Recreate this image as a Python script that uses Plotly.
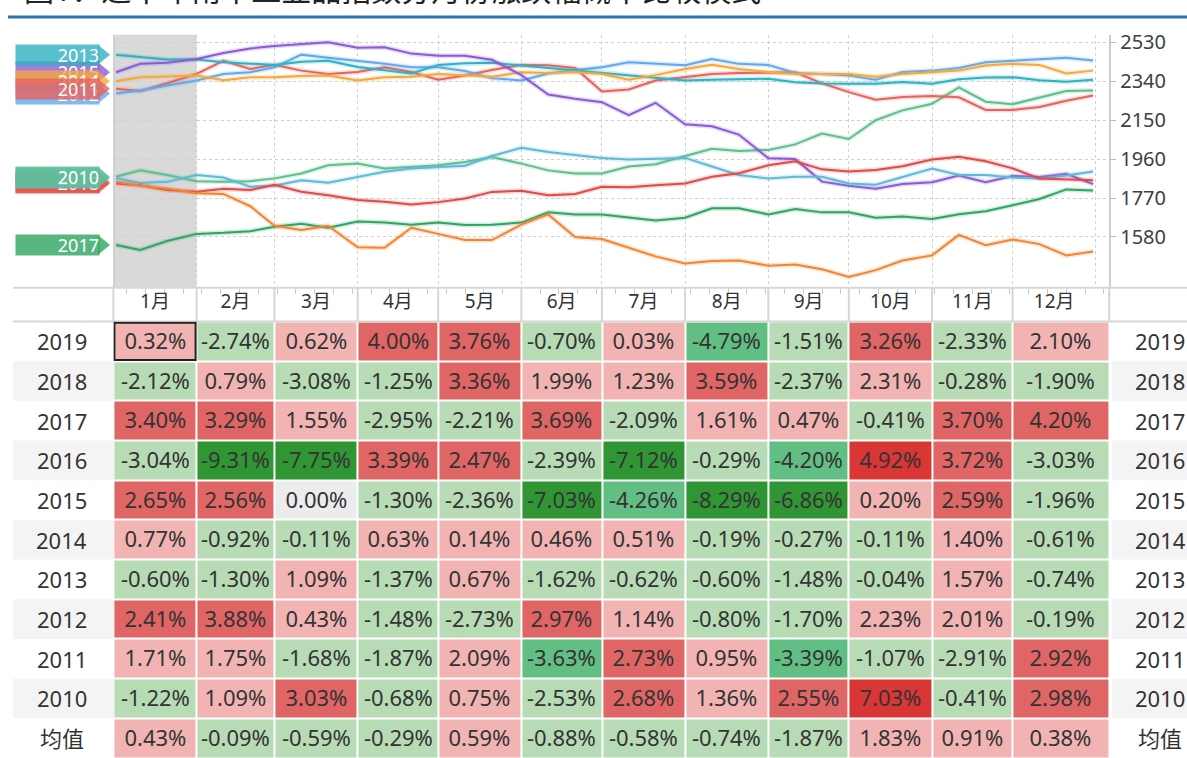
import plotly.graph_objects as go
import pandas as pd

W, H = 1187, 758
FONT = "Noto Sans, Noto Sans CJK SC, sans-serif"

# ---------------- data: line chart ----------------
YEARS = ["2010", "2011", "2012", "2013", "2014", "2015", "2016", "2017", "2018", "2019"]
LINE_COLORS = ["#5dbf8e", "#e8625e", "#5eaaf0", "#2fb2c1", "#f5a83c",
               "#8b5bd6", "#5fb9d8", "#2ea562", "#e04a4a", "#f58431"]

MONTH_STARTS = [f"2020-{m:02d}-01" for m in range(1, 13)]
AXIS_END = "2021-01-06"
DATES = (["2020-01-02", "2020-01-11", "2020-01-21"]
         + [f"2020-{m:02d}-{d:02d}" for m in range(2, 13) for d in (1, 11, 21)]
         + ["2020-12-31"])

S2010 = [1874, 1906, 1882, 1852, 1849, 1852, 1866, 1890, 1930, 1938, 1914, 1922, 1930, 1946, 1970,
         1938, 1905, 1890, 1890, 1924, 1935, 1975, 2010, 2000, 2005, 2032, 2085, 2058, 2150, 2198,
         2230, 2310, 2240, 2228, 2260, 2292, 2295]
S2011 = [2303, 2292, 2330, 2376, 2440, 2400, 2420, 2392, 2376, 2385, 2408, 2385, 2348, 2368, 2395,
         2420, 2418, 2405, 2290, 2300, 2344, 2360, 2376, 2380, 2384, 2384, 2330, 2287, 2250, 2263,
         2268, 2262, 2200, 2200, 2214, 2245, 2271]
S2012 = [2280, 2295, 2319, 2344, 2375, 2384, 2408, 2470, 2455, 2441, 2425, 2408, 2408, 2390, 2355,
         2344, 2378, 2395, 2408, 2433, 2425, 2418, 2449, 2425, 2420, 2380, 2376, 2368, 2348, 2385,
         2392, 2405, 2433, 2441, 2449, 2455, 2441]
S2013 = [2470, 2460, 2446, 2446, 2433, 2426, 2420, 2435, 2440, 2410, 2395, 2378, 2420, 2428, 2430,
         2417, 2408, 2395, 2384, 2370, 2360, 2344, 2348, 2350, 2352, 2335, 2329, 2328, 2328, 2336,
         2328, 2350, 2358, 2360, 2345, 2338, 2347]
S2014 = [2340, 2360, 2363, 2368, 2345, 2360, 2360, 2366, 2368, 2344, 2360, 2362, 2376, 2370, 2362,
         2384, 2380, 2384, 2376, 2348, 2370, 2400, 2420, 2400, 2384, 2376, 2376, 2376, 2362, 2376,
         2384, 2392, 2417, 2425, 2420, 2378, 2392]
S2015 = [2384, 2425, 2430, 2449, 2478, 2500, 2512, 2522, 2530, 2504, 2506, 2475, 2465, 2465, 2445,
         2370, 2275, 2255, 2238, 2175, 2235, 2130, 2120, 2080, 1964, 1960, 1850, 1830, 1815, 1838,
         1847, 1880, 1847, 1878, 1873, 1888, 1838]
S2016 = [1867, 1843, 1849, 1882, 1870, 1825, 1830, 1857, 1845, 1874, 1898, 1914, 1922, 1928, 1975,
         2015, 1995, 1980, 1965, 1958, 1962, 1966, 1924, 1882, 1865, 1874, 1874, 1841, 1835, 1874,
         1914, 1882, 1882, 1870, 1865, 1880, 1899]
S2017 = [1541, 1517, 1560, 1595, 1600, 1608, 1630, 1645, 1625, 1655, 1650, 1640, 1650, 1638, 1640,
         1650, 1700, 1690, 1690, 1674, 1660, 1674, 1720, 1720, 1690, 1716, 1700, 1700, 1674, 1680,
         1668, 1691, 1706, 1735, 1765, 1812, 1807]
S2018 = [1841, 1832, 1809, 1801, 1815, 1809, 1835, 1801, 1784, 1760, 1752, 1738, 1750, 1768, 1800,
         1805, 1784, 1790, 1825, 1823, 1832, 1841, 1874, 1891, 1930, 1949, 1910, 1899, 1907, 1925,
         1958, 1972, 1950, 1915, 1865, 1860, 1857]
S2019 = [1849, 1830, 1817, 1793, 1790, 1730, 1635, 1614, 1635, 1530, 1527, 1625, 1595, 1565, 1565,
         1640, 1690, 1580, 1570, 1528, 1485, 1450, 1462, 1465, 1440, 1445, 1422, 1385, 1418, 1465,
         1490, 1590, 1540, 1568, 1545, 1490, 1509]
SERIES = [S2010, S2011, S2012, S2013, S2014, S2015, S2016, S2017, S2018, S2019]

Y_TICKS = [1580, 1770, 1960, 2150, 2340, 2530]
Y_RANGE = [1332, 2567]

# ---------------- data: monthly change table ----------------
TABLE_ROWS = ["2019", "2018", "2017", "2016", "2015", "2014", "2013", "2012", "2011", "2010", "均值"]
R2019 = [0.32, -2.74, 0.62, 4.00, 3.76, -0.70, 0.03, -4.79, -1.51, 3.26, -2.33, 2.10]
R2018 = [-2.12, 0.79, -3.08, -1.25, 3.36, 1.99, 1.23, 3.59, -2.37, 2.31, -0.28, -1.90]
R2017 = [3.40, 3.29, 1.55, -2.95, -2.21, 3.69, -2.09, 1.61, 0.47, -0.41, 3.70, 4.20]
R2016 = [-3.04, -9.31, -7.75, 3.39, 2.47, -2.39, -7.12, -0.29, -4.20, 4.92, 3.72, -3.03]
R2015 = [2.65, 2.56, 0.00, -1.30, -2.36, -7.03, -4.26, -8.29, -6.86, 0.20, 2.59, -1.96]
R2014 = [0.77, -0.92, -0.11, 0.63, 0.14, 0.46, 0.51, -0.19, -0.27, -0.11, 1.40, -0.61]
R2013 = [-0.60, -1.30, 1.09, -1.37, 0.67, -1.62, -0.62, -0.60, -1.48, -0.04, 1.57, -0.74]
R2012 = [2.41, 3.88, 0.43, -1.48, -2.73, 2.97, 1.14, -0.80, -1.70, 2.23, 2.01, -0.19]
R2011 = [1.71, 1.75, -1.68, -1.87, 2.09, -3.63, 2.73, 0.95, -3.39, -1.07, -2.91, 2.92]
R2010 = [-1.22, 1.09, 3.03, -0.68, 0.75, -2.53, 2.68, 1.36, 2.55, 7.03, -0.41, 2.98]
RMEAN = [0.43, -0.09, -0.59, -0.29, 0.59, -0.88, -0.58, -0.74, -1.87, 1.83, 0.91, 0.38]
TABLE = [R2019, R2018, R2017, R2016, R2015, R2014, R2013, R2012, R2011, R2010, RMEAN]

TITLE = "图1：近十年南华工业品指数分月份涨跌幅概率比较模式"

# ---------------- geometry (pixels) ----------------
PL, PR = 113.4, 1109.2
LINE_TOP, LINE_BOT = 29, 284
TABLE_TOP = 318
LINE_DOM = [1 - LINE_BOT / H, 1 - LINE_TOP / H]
TABLE_DOM = [0, 1 - TABLE_TOP / H]


def rgba(hexc, a):
    h = hexc.lstrip("#")
    return f"rgba({int(h[0:2], 16)},{int(h[2:4], 16)},{int(h[4:6], 16)},{a})"


def ypaper(v):
    return LINE_DOM[0] + (v - Y_RANGE[0]) / (Y_RANGE[1] - Y_RANGE[0]) * (LINE_DOM[1] - LINE_DOM[0])


fig = go.Figure()

# lines (soft halo + line)
for yr, vals, col in zip(YEARS, SERIES, LINE_COLORS):
    fig.add_trace(go.Scatter(x=DATES, y=vals, mode="lines", xaxis="x", yaxis="y",
                             line=dict(color=rgba(col, 0.22), width=5),
                             hoverinfo="skip", showlegend=False))
    fig.add_trace(go.Scatter(x=DATES, y=vals, mode="lines", xaxis="x", yaxis="y",
                             line=dict(color=col, width=2), name=yr, showlegend=False))


# heatmap table
def level(v):
    if v == 0:
        return 0
    if v >= 4.5:
        return 3
    if v >= 2.35:
        return 2
    if v > 0:
        return 1
    if v <= -5.5:
        return -3
    if v <= -3.2:
        return -2
    return -1


CELL_COLORS = ["#2f9633", "#62bf84", "#b6dbb5", "#ececec", "#f2b3b3", "#e06565", "#d93636"]
cs = []
for i, c in enumerate(CELL_COLORS):
    cs.append([i / 7, c])
    cs.append([(i + 1) / 7, c])

z = [[level(v) for v in row] for row in TABLE]
txt = [[f"{v:.2f}%" for v in row] for row in TABLE]
fig.add_trace(go.Heatmap(x=MONTH_STARTS + [AXIS_END], y=list(range(len(TABLE_ROWS))), z=z,
                         text=txt, texttemplate="%{text}",
                         textfont=dict(size=22, color="#333333", family=FONT),
                         colorscale=cs, zmin=-3.5, zmax=3.5, showscale=False,
                         xgap=2, ygap=2, xaxis="x2", yaxis="y2", hoverinfo="skip"))

shapes = []
annotations = []

# January highlight band in the line chart
shapes.append(dict(type="rect", xref="x", yref="paper", x0=MONTH_STARTS[0], x1=MONTH_STARTS[1],
                   y0=LINE_DOM[0], y1=LINE_DOM[1], fillcolor="#d9d9d9", line=dict(width=0),
                   layer="below"))
shapes.append(dict(type="line", xref="x", yref="paper", x0=MONTH_STARTS[0], x1=MONTH_STARTS[0],
                   y0=LINE_DOM[0], y1=LINE_DOM[1], line=dict(color="#bdbdbd", width=2)))

# header row (month labels band)
hdr_top = 1 - LINE_BOT / H
hdr_bot = 1 - TABLE_TOP / H
for yy in (hdr_top, hdr_bot):
    shapes.append(dict(type="line", xref="paper", yref="paper", x0=13 / W, x1=1, y0=yy, y1=yy,
                       line=dict(color="#d6d6d6", width=2)))
for d in MONTH_STARTS[1:]:
    shapes.append(dict(type="line", xref="x", yref="paper", x0=d, x1=d, y0=hdr_bot, y1=hdr_top,
                       line=dict(color="#d6d6d6", width=2)))
for px in (PL, PR):
    shapes.append(dict(type="line", xref="paper", yref="paper", x0=px / W, x1=px / W,
                       y0=hdr_bot, y1=hdr_top, line=dict(color="#d6d6d6", width=2)))

# alternating row backgrounds + row labels
for i, name in enumerate(TABLE_ROWS):
    if i % 2 == 1:
        for xa, xb in ((13 / W, (PL + 1) / W), ((PR + 3) / W, 1)):
            shapes.append(dict(type="rect", xref="paper", yref="y2", x0=xa, x1=xb,
                               y0=i - 0.5, y1=i + 0.5, fillcolor="#f4f4f4",
                               line=dict(width=0), layer="below"))
    for xc in (62 / W, 1160 / W):
        annotations.append(dict(x=xc, y=i, xref="paper", yref="y2", text=name, showarrow=False,
                                xanchor="center", yanchor="middle",
                                font=dict(size=22, color="#333333", family=FONT)))

# selected cell outline (2019, Jan)
sel_x0 = (pd.Timestamp(MONTH_STARTS[0]) + pd.Timedelta(hours=9)).isoformat()
sel_x1 = (pd.Timestamp(MONTH_STARTS[1]) - pd.Timedelta(hours=9)).isoformat()
shapes.append(dict(type="rect", xref="x2", yref="y2", x0=sel_x0, x1=sel_x1, y0=-0.47, y1=0.47,
                   line=dict(color="#222222", width=2), fillcolor="rgba(0,0,0,0)"))

# year tags at the left (descending so 2010 ends up on top)
TAG_L, TAG_R, TAG_TIP, TAG_H = 15, 98, 110, 20
for yr, vals, col in reversed(list(zip(YEARS, SERIES, LINE_COLORS))):
    yc = ypaper(vals[0])
    hh = TAG_H / 2 / H
    path = (f"M {TAG_R / W},{yc + hh} L {TAG_TIP / W},{yc} L {TAG_R / W},{yc - hh} Z")
    shapes.append(dict(type="path", xref="paper", yref="paper", path=path,
                       fillcolor=rgba(col, 0.8), line=dict(width=0)))
    annotations.append(dict(x=TAG_L / W, y=yc, xref="paper", yref="paper", xanchor="left",
                            yanchor="middle", text=yr, showarrow=False, align="right",
                            width=TAG_R - TAG_L, height=TAG_H, borderpad=0,
                            bgcolor=rgba(col, 0.8),
                            font=dict(size=18, color="white", family=FONT)))

# title (cut off at the top) and blue rule
annotations.append(dict(x=22 / W, y=1 - 6 / H, xref="paper", yref="paper", xanchor="left",
                        yanchor="bottom", text=TITLE, showarrow=False,
                        font=dict(size=30, color="#222222", family=FONT)))
shapes.append(dict(type="line", xref="paper", yref="paper", x0=8 / W, x1=1, y0=1 - 11 / H,
                   y1=1 - 11 / H, line=dict(color="#2e75b6", width=3)))

fig.update_layout(
    width=W, height=H,
    margin=dict(l=0, r=0, t=0, b=0),
    paper_bgcolor="white", plot_bgcolor="white",
    font=dict(family=FONT, color="#333333"),
    showlegend=False,
    xaxis=dict(type="date", range=[MONTH_STARTS[0], AXIS_END], domain=[PL / W, PR / W], anchor="y",
               tick0=MONTH_STARTS[0], dtick="M1", ticklabelmode="period", tickformat="%-m月",
               ticks="", showgrid=True, gridcolor="#cfcfcf", griddash="dot", gridwidth=1,
               zeroline=False, showline=False, tickfont=dict(size=19, color="#333333"),
               ticklabelstandoff=0,
               minor=dict(ticks="outside", ticklen=5, tickcolor="#c8c8c8",
                          dtick=7 * 86400000, tick0="2020-01-06", showgrid=False)),
    yaxis=dict(domain=LINE_DOM, range=Y_RANGE, side="right", anchor="x", tickmode="array",
               tickvals=Y_TICKS, ticks="outside", ticklen=5, tickcolor="#bbbbbb",
               showline=True, linecolor="#cccccc", linewidth=2, showgrid=True,
               gridcolor="#cfcfcf", griddash="dot", zeroline=False,
               tickfont=dict(size=20, color="#404040")),
    xaxis2=dict(type="date", range=[MONTH_STARTS[0], AXIS_END], domain=[PL / W, PR / W],
                anchor="y2", showticklabels=False, showgrid=False, zeroline=False, ticks=""),
    yaxis2=dict(domain=TABLE_DOM, range=[len(TABLE_ROWS) - 0.5, -0.5], anchor="x2",
                showticklabels=False, showgrid=False, zeroline=False, ticks=""),
    shapes=shapes,
    annotations=annotations,
)

fig.write_html("out.html", config={"displayModeBar": False},
               post_script="document.body.style.margin='0';document.body.style.overflow='hidden';")
